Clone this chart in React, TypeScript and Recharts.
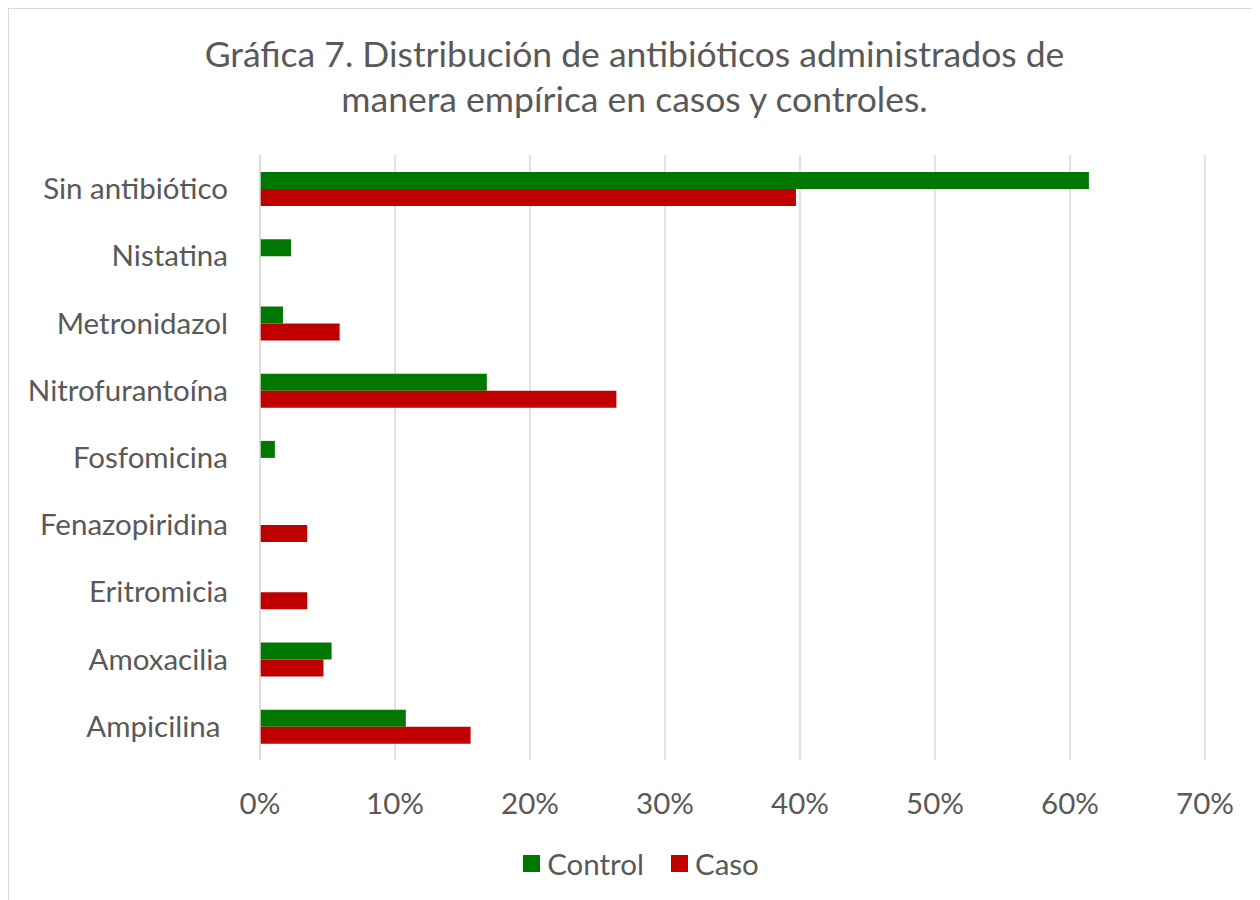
import { Bar, BarChart, CartesianGrid, Legend, XAxis, YAxis } from "recharts";

const categories = [
  "Sin antibiótico",
  "Nistatina",
  "Metronidazol",
  "Nitrofurantoína",
  "Fosfomicina",
  "Fenazopiridina",
  "Eritromicia",
  "Amoxacilia",
  "Ampicilina\u00a0",
];
const control = [0.614, 0.023, 0.017, 0.168, 0.011, 0, 0, 0.053, 0.108];
const caso = [0.397, 0, 0.059, 0.264, 0, 0.035, 0.035, 0.047, 0.156];
const xTicks = [0, 0.1, 0.2, 0.3, 0.4, 0.5, 0.6, 0.7];

const GREEN = "#007800";
const RED = "#C00000";
const TEXT = "#595959";
const FONT = "Lato, 'Open Sans', sans-serif";

const data = categories.map((name, i) => ({ name, control: control[i], caso: caso[i] }));

function LegendBox() {
  const items = [
    { label: "Control", color: GREEN },
    { label: "Caso", color: RED },
  ];
  return (
    <div
      style={{
        display: "flex",
        justifyContent: "center",
        gap: 27,
        paddingLeft: 13,
        fontFamily: FONT,
        fontSize: 29.5,
        color: TEXT,
      }}
    >
      {items.map((it) => (
        <span key={it.label} style={{ display: "flex", alignItems: "center", gap: 7 }}>
          <span style={{ width: 17, height: 17, background: it.color, display: "inline-block" }} />
          {it.label}
        </span>
      ))}
    </div>
  );
}

export default function App() {
  return (
    <div
      style={{
        position: "relative",
        width: 1252,
        height: 892,
        borderTop: "1px solid #d9d9d9",
        borderLeft: "1px solid #d9d9d9",
        boxSizing: "border-box",
        background: "#fff",
      }}
    >
      <div
        style={{
          position: "absolute",
          top: 22,
          left: 0,
          width: "100%",
          textAlign: "center",
          fontFamily: FONT,
          fontSize: 35.5,
          lineHeight: "45px",
          color: TEXT,
        }}
      >
        Gráfica 7. Distribución de antibióticos administrados de
        <br />
        manera empírica en casos y controles.
      </div>
      <BarChart
        width={1251}
        height={891}
        data={data}
        layout="vertical"
        margin={{ top: 146, right: 55, bottom: 0, left: 0 }}
        barGap={0}
      >
        <CartesianGrid horizontal={false} stroke="#d9d9d9" strokeWidth={1.5} />
        <XAxis
          type="number"
          domain={[0, 0.7]}
          ticks={xTicks}
          tickFormatter={(v: number) => `${Math.round(v * 100)}%`}
          axisLine={false}
          tickLine={false}
          tickSize={0}
          tickMargin={33}
          height={140}
          tick={{ fill: TEXT, fontSize: 29.5, fontFamily: FONT }}
        />
        <YAxis
          type="category"
          dataKey="name"
          width={251}
          axisLine={{ stroke: "#d9d9d9", strokeWidth: 1.5 }}
          tickLine={false}
          tickSize={0}
          tickMargin={32}
          tick={{ fill: TEXT, fontSize: 29.5, fontFamily: FONT }}
        />
        <Legend
          layout="horizontal"
          verticalAlign="middle"
          align="center"
          wrapperStyle={{ top: 837, left: 0, width: 1251 }}
          content={() => <LegendBox />}
        />
        <Bar dataKey="control" name="Control" fill={GREEN} barSize={17} isAnimationActive={false} />
        <Bar dataKey="caso" name="Caso" fill={RED} barSize={17} isAnimationActive={false} />
      </BarChart>
    </div>
  );
}
